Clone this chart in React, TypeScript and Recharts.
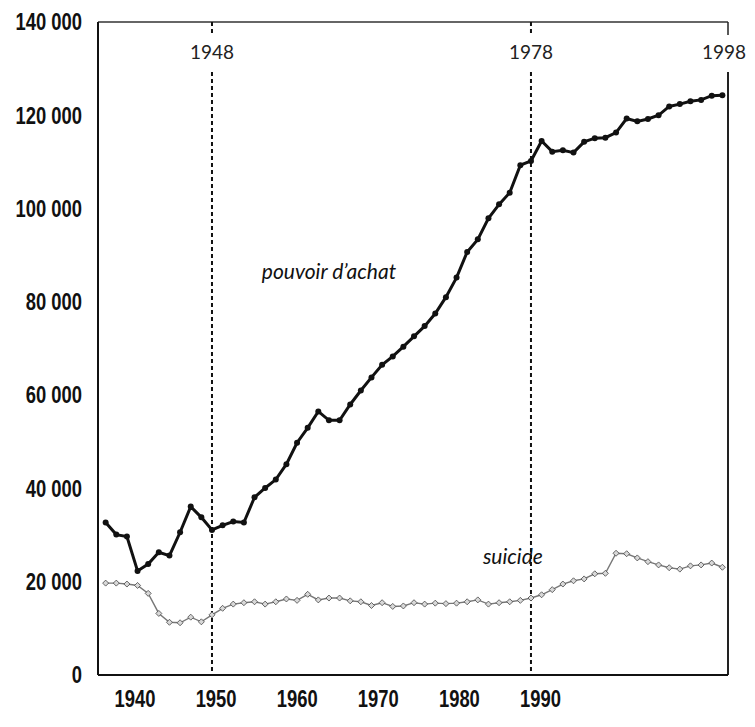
import { LineChart, Line, XAxis, YAxis, ReferenceLine, ReferenceDot } from 'recharts'

// années des séries (une valeur par an)
const years = [
  1938, 1939, 1940, 1941, 1942, 1943, 1944, 1945, 1946, 1947,
  1948, 1949, 1950, 1951, 1952, 1953, 1954, 1955, 1956, 1957,
  1958, 1959, 1960, 1961, 1962, 1963, 1964, 1965, 1966, 1967,
  1968, 1969, 1970, 1971, 1972, 1973, 1974, 1975, 1976, 1977,
  1978, 1979, 1980, 1981, 1982, 1983, 1984, 1985, 1986, 1987,
  1988, 1989, 1990, 1991, 1992, 1993, 1994, 1995, 1996,
]

const pouvoirAchat = [
  32700, 30100, 29700, 22300, 23800, 26300, 25600, 30600, 36100, 33800,
  31100, 32100, 32900, 32700, 38100, 40100, 41900, 45200, 49800, 53000,
  56500, 54600, 54600, 58000, 61000, 63800, 66500, 68300, 70400, 72600,
  74800, 77500, 81000, 85200, 90700, 93400, 97900, 100900, 103400, 109300,
  110200, 114500, 112200, 112500, 112000, 114300, 115100, 115200, 116300, 119300,
  118700, 119200, 120000, 121900, 122400, 123000, 123300, 124200, 124300,
]

const suicide = [
  19700, 19700, 19500, 19200, 17500, 13200, 11300, 11200, 12400, 11400,
  12900, 14300, 15200, 15500, 15700, 15200, 15700, 16300, 16000, 17300,
  16100, 16500, 16500, 15900, 15700, 14900, 15500, 14700, 14800, 15500,
  15200, 15400, 15300, 15400, 15700, 16100, 15200, 15500, 15700, 16000,
  16500, 17200, 18300, 19500, 20200, 20600, 21700, 21800, 26100, 26000,
  25100, 24300, 23600, 23000, 22700, 23400, 23600, 24000, 23100,
]

const yTicks = [0, 20000, 40000, 60000, 80000, 100000, 120000, 140000]
const bottomTicks = [1940, 1950, 1960, 1970, 1980, 1990]
const markerYears = [1948, 1978]
const endLabel = '1998'

// l'échelle des années du bas ne correspond pas à celle des données dans l'original
const YEAR_DOMAIN: [number, number] = [1937.28, 1996.53]
const LABEL_DOMAIN: [number, number] = [1935.44, 2013.12]

const data = years.map((year, i) => ({
  year,
  pouvoir: pouvoirAchat[i],
  suicide: suicide[i],
}))

const fmtThousands = (v: number) => (v === 0 ? '0' : `${v / 1000} 000`)

// police étroite et grasse : pas de "Narrow" installée, on comprime horizontalement
function NarrowTick(props: any) {
  const { x, y, payload, textAnchor, fmt, dy } = props
  const text = fmt ? fmt(payload.value) : String(payload.value)
  return (
    <g transform={`translate(${x},${y})`}>
      <text
        transform="scale(0.8,1)"
        textAnchor={textAnchor}
        dy={dy}
        fontFamily="'Liberation Sans', Arial, sans-serif"
        fontWeight={700}
        fontSize={23}
        fill="#111"
      >
        {text}
      </text>
    </g>
  )
}

const yearLabel = {
  position: 'top' as const,
  offset: 13,
  fill: '#222',
  fontSize: 19,
  fontFamily: 'Lato, sans-serif',
}

function renderDiamond(props: any) {
  const { cx, cy, index } = props
  if (cx == null || cy == null) return <g key={`s-${index}`} />
  return (
    <path
      key={`s-${index}`}
      d={`M${cx},${cy - 3}L${cx + 3},${cy}L${cx},${cy + 3}L${cx - 3},${cy}Z`}
      fill="#d8d8d8"
      stroke="#444"
      strokeWidth={0.8}
    />
  )
}

export default function App() {
  const right = YEAR_DOMAIN[1]
  return (
    <LineChart
      width={747}
      height={711}
      data={data}
      margin={{ top: 14, right: 27, bottom: 14, left: 0 }}
    >
      <XAxis
        xAxisId="yr"
        dataKey="year"
        type="number"
        domain={YEAR_DOMAIN}
        allowDataOverflow
        hide
      />
      <XAxis
        xAxisId="lbl"
        dataKey="year"
        type="number"
        domain={LABEL_DOMAIN}
        allowDataOverflow
        ticks={bottomTicks}
        interval={0}
        tick={<NarrowTick dy="0.72em" />}
        tickLine={false}
        tickSize={0}
        tickMargin={15}
        height={30}
        axisLine={{ stroke: '#111', strokeWidth: 2 }}
      />
      <YAxis
        type="number"
        domain={[0, 140000]}
        ticks={yTicks}
        interval={0}
        width={90}
        tick={<NarrowTick dy="0.36em" fmt={fmtThousands} />}
        tickLine={false}
        tickSize={0}
        tickMargin={16}
        axisLine={{ stroke: '#111', strokeWidth: 2 }}
      />

      <ReferenceLine xAxisId="yr" y={140000} stroke="#333" strokeWidth={1.5} />

      {markerYears.map((yr) => (
        <ReferenceLine
          key={`t-${yr}`}
          xAxisId="yr"
          segment={[{ x: yr, y: 140000 }, { x: yr, y: 137600 }]}
          stroke="#111"
          strokeWidth={2}
          strokeDasharray="4 3"
        />
      ))}
      {markerYears.map((yr) => (
        <ReferenceLine
          key={`m-${yr}`}
          xAxisId="yr"
          segment={[{ x: yr, y: 129300 }, { x: yr, y: 0 }]}
          stroke="#111"
          strokeWidth={2}
          strokeDasharray="4 3"
          label={{ value: String(yr), ...yearLabel }}
        />
      ))}

      <ReferenceLine
        xAxisId="yr"
        segment={[{ x: right, y: 140000 }, { x: right, y: 137200 }]}
        stroke="#222"
        strokeWidth={1.5}
        ifOverflow="visible"
      />
      <ReferenceLine
        xAxisId="yr"
        segment={[{ x: right, y: 129300 }, { x: right, y: 0 }]}
        stroke="#222"
        strokeWidth={2}
        ifOverflow="visible"
        label={{ value: endLabel, ...yearLabel, dx: -4 }}
      />

      <Line
        xAxisId="yr"
        dataKey="suicide"
        type="linear"
        stroke="#777"
        strokeWidth={1.4}
        dot={renderDiamond}
        activeDot={false}
        isAnimationActive={false}
      />
      <Line
        xAxisId="yr"
        dataKey="pouvoir"
        type="linear"
        stroke="#111"
        strokeWidth={3}
        dot={{ r: 3, fill: '#111', stroke: '#111', strokeWidth: 0 }}
        activeDot={false}
        isAnimationActive={false}
      />

      <ReferenceDot
        xAxisId="yr"
        x={1959}
        y={86400}
        r={0}
        ifOverflow="visible"
        label={{
          value: 'pouvoir d\u2019achat',
          position: 'center',
          fill: '#111',
          fontSize: 21,
          fontStyle: 'italic',
          fontFamily: 'Lato, sans-serif',
        }}
      />
      <ReferenceDot
        xAxisId="yr"
        x={1976.3}
        y={25500}
        r={0}
        ifOverflow="visible"
        label={{
          value: 'suicide',
          position: 'center',
          fill: '#111',
          fontSize: 21,
          fontStyle: 'italic',
          fontFamily: 'Lato, sans-serif',
        }}
      />
    </LineChart>
  )
}
